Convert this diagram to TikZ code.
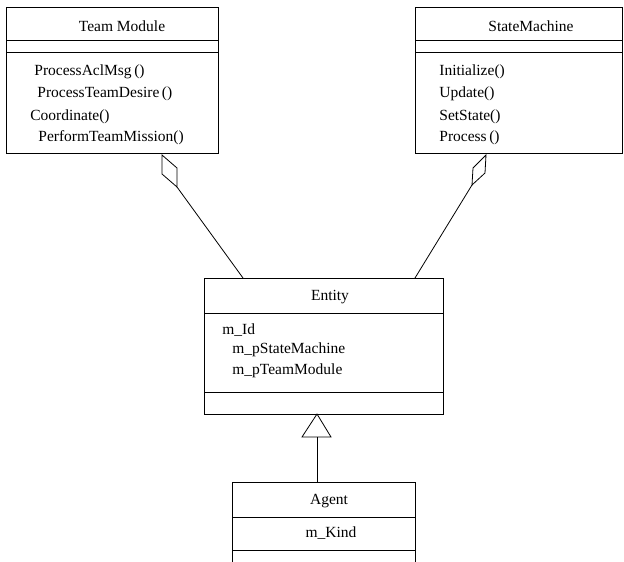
\documentclass[tikz,border=0pt]{standalone}
\usepackage{fontspec}
\setmainfont{Liberation Serif}
\begin{document}
\begin{tikzpicture}[x=1pt,y=-1pt,line width=0.8pt,
  box/.style={draw=black,fill=none,inner sep=0pt,anchor=north west},
  lbl/.style={inner sep=0pt,font=\fontsize{15.5}{17}\selectfont},
  lft/.style={lbl,anchor=west},
  sep/.style={draw=black,line width=0.8pt},
  link/.style={draw=black,line width=0.8pt}]
\useasboundingbox (0,0) rectangle (624,562);
% Team Module
\node[box,minimum width=212pt,minimum height=146pt] (tm) at (6,7) {};
\draw[sep] ([yshift=-33pt]tm.north west) -- ([yshift=-33pt]tm.north east);
\draw[sep] ([yshift=-45pt]tm.north west) -- ([yshift=-45pt]tm.north east);
\node[lbl] (tmt) at (122,26) {Team Module};
\node[lft] (tm1) at (34,72) {ProcessAclMsg\,()};
\node[lft] (tm2) at (37,94) {ProcessTeamDesire\,()};
\node[lft] (tm3) at (30,117) {Coordinate()};
\node[lft] (tm4) at (38,138) {PerformTeamMission()};
% StateMachine
\node[box,minimum width=207pt,minimum height=146pt] (sm) at (415,7) {};
\draw[sep] ([yshift=-33pt]sm.north west) -- ([yshift=-33pt]sm.north east);
\draw[sep] ([yshift=-45pt]sm.north west) -- ([yshift=-45pt]sm.north east);
\node[lbl] (smt) at (531,26) {StateMachine};
\node[lft] (sm1) at (439,72) {Initialize()};
\node[lft] (sm2) at (439,94) {Update()};
\node[lft] (sm3) at (439,117) {SetState()};
\node[lft] (sm4) at (439,138) {Process\,()};
% Entity
\node[box,minimum width=239pt,minimum height=136pt] (en) at (204,278) {};
\draw[sep] ([yshift=-35pt]en.north west) -- ([yshift=-35pt]en.north east);
\draw[sep] ([yshift=-114pt]en.north west) -- ([yshift=-114pt]en.north east);
\node[lbl] (ent) at (330,297) {Entity};
\node[lft] (en1) at (222,330) {m\_Id};
\node[lft] (en2) at (232,350) {m\_pStateMachine};
\node[lft] (en3) at (232,371) {m\_pTeamModule};
% Agent
\node[box,minimum width=183pt,minimum height=82pt] (ag) at (232,482) {};
\draw[sep] ([yshift=-35pt]ag.north west) -- ([yshift=-35pt]ag.north east);
\draw[sep] ([yshift=-68pt]ag.north west) -- ([yshift=-68pt]ag.north east);
\node[lbl] (agt) at (329,501) {Agent};
\node[lbl] (ag1) at (331,533) {m\_Kind};
% aggregation Team Module -- Entity
\coordinate (d1a) at (162,155);
\coordinate (d1b) at (177,168);
\coordinate (d1c) at (177,187);
\coordinate (d1d) at (162,174);
\coordinate (e1) at (243,278);
\draw[link] (d1a) -- (d1b) -- (d1c) -- (d1d) -- cycle;
\draw[link] (d1c) -- (e1);
% aggregation StateMachine -- Entity
\coordinate (d2a) at (486,155);
\coordinate (d2b) at (485,173);
\coordinate (d2c) at (472,185);
\coordinate (d2d) at (473,168);
\coordinate (e2) at (415,278);
\draw[link] (d2a) -- (d2b) -- (d2c) -- (d2d) -- cycle;
\draw[link] (d2c) -- (e2);
% generalization Agent -> Entity
\coordinate (tapex) at (317,414);
\coordinate (tl) at (302,437);
\coordinate (tr) at (331,437);
\coordinate (tb) at (317,437);
\draw[link] (tapex) -- (tr) -- (tl) -- cycle;
\draw[link] (tb) -- (ag.north -| tb);
\end{tikzpicture}
\end{document}
